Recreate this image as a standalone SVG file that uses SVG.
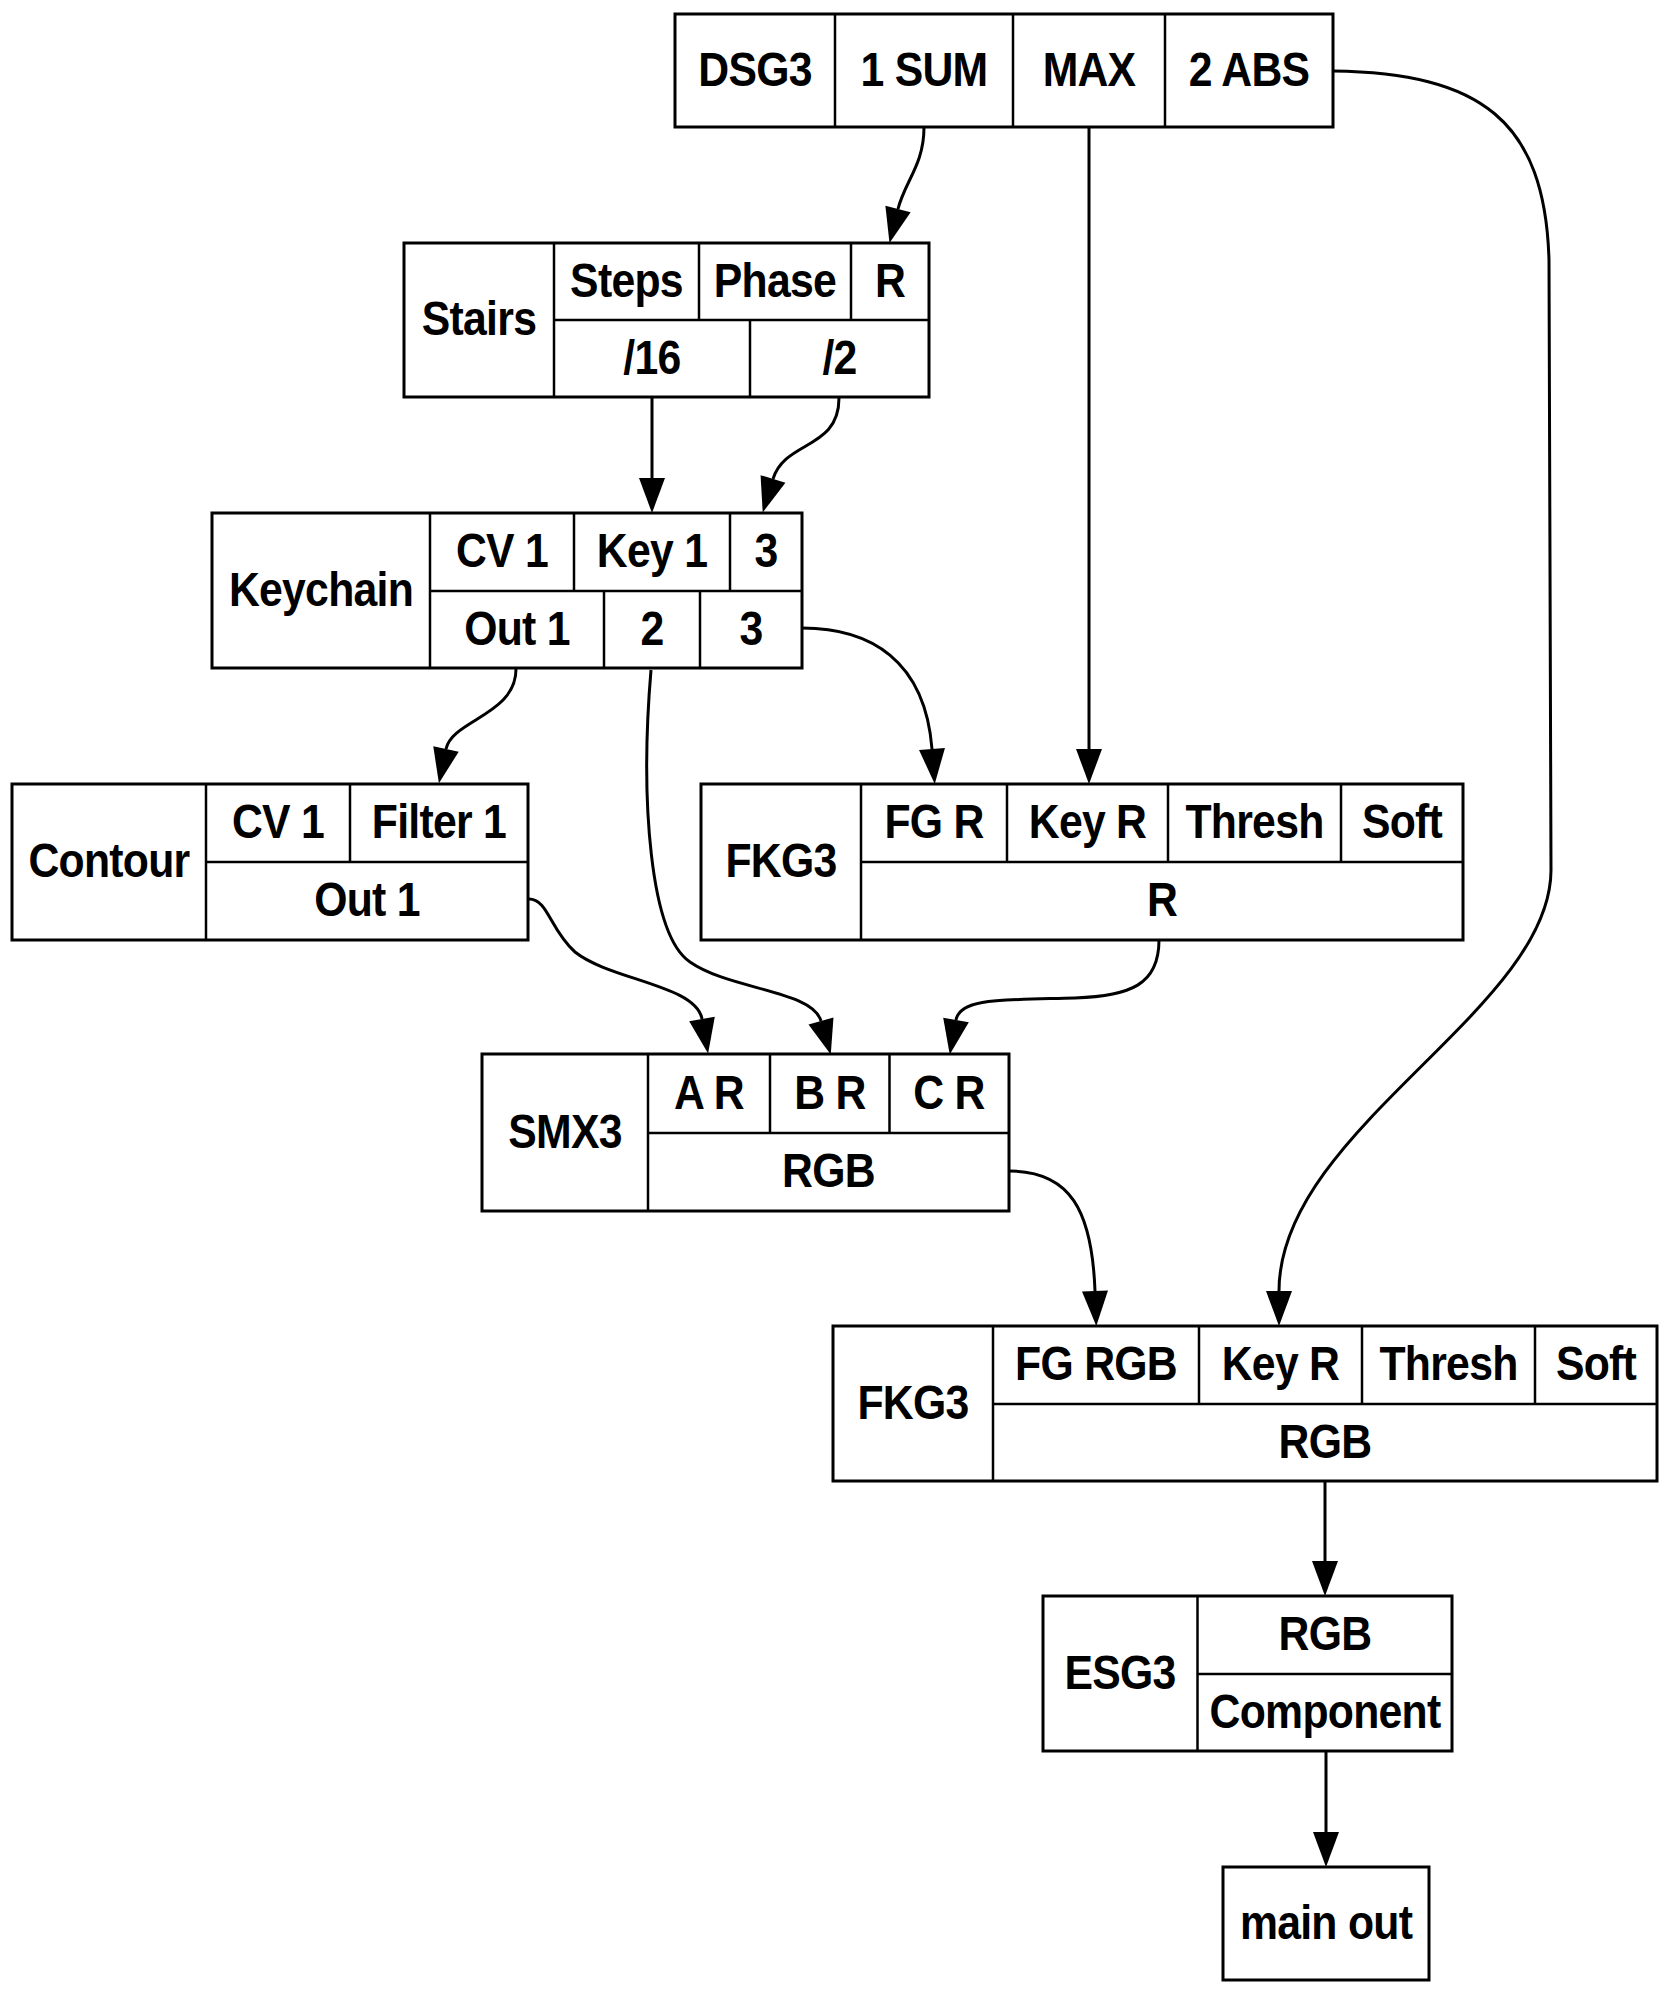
<svg xmlns="http://www.w3.org/2000/svg" width="1668" height="1993" viewBox="0 0 1668 1993">
<defs>
<style>
.n rect{fill:#fff;stroke:#000;stroke-width:3}
.n line{stroke:#000;stroke-width:2.5}
text{font-family:"Liberation Sans",Arial,Helvetica,sans-serif;font-weight:bold;font-size:48px;letter-spacing:-0.8px;text-anchor:middle;fill:#000;transform-box:fill-box;transform-origin:center;transform:scaleX(0.89)}
.e path{fill:none;stroke:#000;stroke-width:3;marker-end:url(#ah)}
</style>
<marker id="ah" markerUnits="userSpaceOnUse" markerWidth="35" markerHeight="26" refX="0" refY="13" orient="auto" viewBox="0 0 35 26" overflow="visible">
<path d="M0,0 L35,13 L0,26 z" fill="#000"/>
</marker>
</defs>
<rect x="0" y="0" width="1668" height="1993" fill="#fff"/>

<g id="edges" class="e">
<path d="M924,127 C924,165 905,181 898,209"/>
<path d="M652,397 L652,478"/>
<path d="M839,398 C839,450 785,440 773,479"/>
<path d="M516,669 C516,715 452,720 446,749"/>
<path d="M651,670 C640,800 650,935 690,962 C730,990 812,990 821,1021"/>
<path d="M802,628 C870,628 925,660 932,749"/>
<path d="M1089,127 L1089,749"/>
<path d="M1333,71 C1480,73 1545,120 1549,260 L1551,870 C1551,1010 1279,1130 1279,1291"/>
<path d="M529,899 C548,899 550,930 575,952 C610,980 696,985 702,1019"/>
<path d="M1159,940 C1159,985 1130,996 1075,998 C1000,1000 960,998 956,1020"/>
<path d="M1009,1171 C1070,1171 1092,1210 1095,1291"/>
<path d="M1325,1481 L1325,1561"/>
<path d="M1326,1752 L1326,1832"/>
</g>

<g id="dsg3" class="n">
<rect x="675" y="14" width="658" height="113"/>
<line x1="835" y1="14" x2="835" y2="127"/>
<line x1="1013" y1="14" x2="1013" y2="127"/>
<line x1="1165" y1="14" x2="1165" y2="127"/>
<text x="755" y="86">DSG3</text>
<text x="924" y="86">1 SUM</text>
<text x="1089" y="86">MAX</text>
<text x="1249" y="86">2 ABS</text>
</g>

<g id="stairs" class="n">
<rect x="404" y="243" width="525" height="154"/>
<line x1="554" y1="243" x2="554" y2="397"/>
<line x1="554" y1="320" x2="929" y2="320"/>
<line x1="699" y1="243" x2="699" y2="320"/>
<line x1="851" y1="243" x2="851" y2="320"/>
<line x1="750" y1="320" x2="750" y2="397"/>
<text x="479" y="335">Stairs</text>
<text x="626.5" y="297">Steps</text>
<text x="775" y="297">Phase</text>
<text x="890" y="297">R</text>
<text x="652" y="374">/16</text>
<text x="839.5" y="374">/2</text>
</g>

<g id="keychain" class="n">
<rect x="212" y="513" width="590" height="155"/>
<line x1="430" y1="513" x2="430" y2="668"/>
<line x1="430" y1="591" x2="802" y2="591"/>
<line x1="574" y1="513" x2="574" y2="591"/>
<line x1="730" y1="513" x2="730" y2="591"/>
<line x1="604" y1="591" x2="604" y2="668"/>
<line x1="700" y1="591" x2="700" y2="668"/>
<text x="321" y="606">Keychain</text>
<text x="502" y="567">CV 1</text>
<text x="652" y="567">Key 1</text>
<text x="766" y="567">3</text>
<text x="517" y="645">Out 1</text>
<text x="652" y="645">2</text>
<text x="751" y="645">3</text>
</g>

<g id="contour" class="n">
<rect x="12" y="784" width="516" height="156"/>
<line x1="206" y1="784" x2="206" y2="940"/>
<line x1="206" y1="862" x2="528" y2="862"/>
<line x1="350" y1="784" x2="350" y2="862"/>
<text x="109" y="877">Contour</text>
<text x="278" y="838">CV 1</text>
<text x="439" y="838">Filter 1</text>
<text x="367" y="916">Out 1</text>
</g>

<g id="fkg3a" class="n">
<rect x="701" y="784" width="762" height="156"/>
<line x1="861" y1="784" x2="861" y2="940"/>
<line x1="861" y1="862" x2="1463" y2="862"/>
<line x1="1007" y1="784" x2="1007" y2="862"/>
<line x1="1168" y1="784" x2="1168" y2="862"/>
<line x1="1341" y1="784" x2="1341" y2="862"/>
<text x="781" y="877">FKG3</text>
<text x="934" y="838">FG R</text>
<text x="1087.5" y="838">Key R</text>
<text x="1254.5" y="838">Thresh</text>
<text x="1402" y="838">Soft</text>
<text x="1162" y="916">R</text>
</g>

<g id="smx3" class="n">
<rect x="482" y="1054" width="527" height="157"/>
<line x1="648" y1="1054" x2="648" y2="1211"/>
<line x1="648" y1="1133" x2="1009" y2="1133"/>
<line x1="770" y1="1054" x2="770" y2="1133"/>
<line x1="889.5" y1="1054" x2="889.5" y2="1133"/>
<text x="565" y="1148">SMX3</text>
<text x="709" y="1109">A R</text>
<text x="830" y="1109">B R</text>
<text x="949" y="1109">C R</text>
<text x="828.5" y="1187">RGB</text>
</g>

<g id="fkg3b" class="n">
<rect x="833" y="1326" width="824" height="155"/>
<line x1="993" y1="1326" x2="993" y2="1481"/>
<line x1="993" y1="1404" x2="1657" y2="1404"/>
<line x1="1199" y1="1326" x2="1199" y2="1404"/>
<line x1="1362" y1="1326" x2="1362" y2="1404"/>
<line x1="1535" y1="1326" x2="1535" y2="1404"/>
<text x="913" y="1419">FKG3</text>
<text x="1096" y="1380">FG RGB</text>
<text x="1280.5" y="1380">Key R</text>
<text x="1448.5" y="1380">Thresh</text>
<text x="1596" y="1380">Soft</text>
<text x="1325" y="1458">RGB</text>
</g>

<g id="esg3" class="n">
<rect x="1043" y="1596" width="409" height="155"/>
<line x1="1197.5" y1="1596" x2="1197.5" y2="1751"/>
<line x1="1197.5" y1="1674" x2="1452" y2="1674"/>
<text x="1120" y="1689">ESG3</text>
<text x="1325" y="1650">RGB</text>
<text x="1325" y="1728">Component</text>
</g>

<g id="mainout" class="n">
<rect x="1223" y="1867" width="206" height="113"/>
<text x="1326" y="1939">main out</text>
</g>
</svg>
